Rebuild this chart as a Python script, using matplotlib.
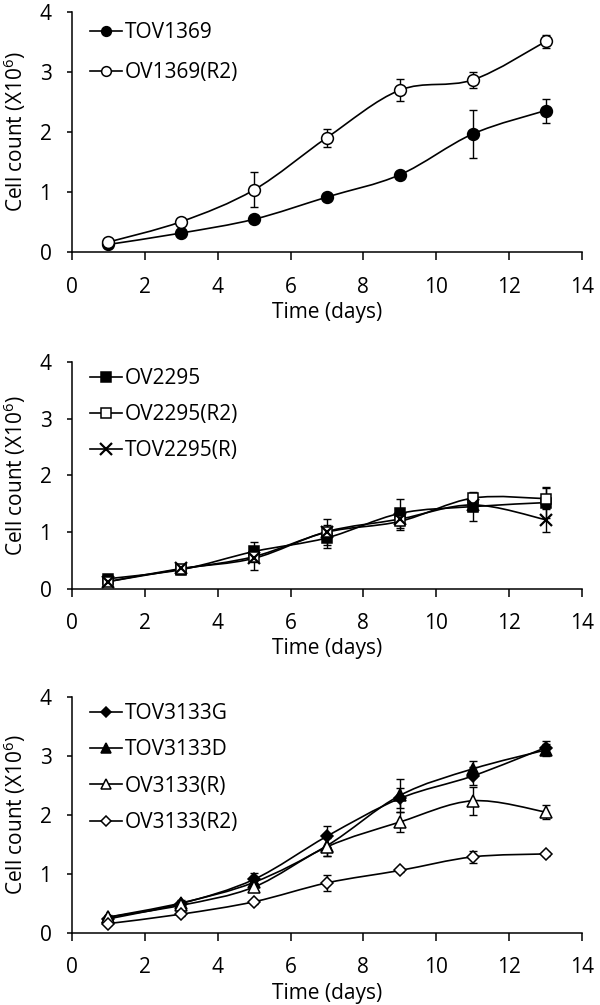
import matplotlib
matplotlib.use("Agg")
import matplotlib.pyplot as plt
from matplotlib.path import Path
from matplotlib.patches import PathPatch
from matplotlib.lines import Line2D
import numpy as np

plt.rcParams["font.family"] = ["Open Sans", "DejaVu Sans"]
plt.rcParams["mathtext.fontset"] = "custom"
plt.rcParams["mathtext.rm"] = "Open Sans"
plt.rcParams["mathtext.it"] = "Open Sans"

days = [1, 3, 5, 7, 9, 11, 13]

# panel 1
tov1369 = [0.13, 0.32, 0.55, 0.92, 1.29, 1.97, 2.36]
tov1369_err = [0.02, 0.03, 0.04, 0.05, 0.05, 0.40, 0.20]
ov1369_r2 = [0.17, 0.51, 1.04, 1.91, 2.70, 2.87, 3.51]
ov1369_r2_err = [0.03, 0.04, 0.29, 0.15, 0.18, 0.14, 0.11]

# panel 2
ov2295 = [0.18, 0.34, 0.66, 0.90, 1.33, 1.45, 1.52]
ov2295_err = [0.02, 0.03, 0.16, 0.18, 0.25, 0.25, 0.27]
ov2295_r2 = [0.13, 0.35, 0.57, 1.00, 1.19, 1.60, 1.59]
ov2295_r2_err = [0.02, 0.08, 0.10, 0.12, 0.15, 0.09, 0.18]
tov2295_r = [0.13, 0.36, 0.54, 1.01, 1.23, 1.48, 1.22]
tov2295_r_err = [0.02, 0.05, 0.20, 0.23, 0.10, 0.10, 0.21]

# panel 3
tov3133g = [0.24, 0.50, 0.91, 1.64, 2.28, 2.66, 3.14]
tov3133g_err = [0.02, 0.05, 0.11, 0.18, 0.17, 0.15, 0.11]
tov3133d = [0.27, 0.51, 0.86, 1.48, 2.33, 2.78, 3.10]
tov3133d_err = [0.02, 0.05, 0.08, 0.18, 0.28, 0.13, 0.10]
ov3133_r = [0.27, 0.47, 0.78, 1.46, 1.88, 2.24, 2.05]
ov3133_r_err = [0.03, 0.05, 0.06, 0.15, 0.17, 0.24, 0.12]
ov3133_r2 = [0.16, 0.32, 0.53, 0.85, 1.06, 1.29, 1.34]
ov3133_r2_err = [0.02, 0.03, 0.03, 0.14, 0.03, 0.10, 0.03]


def smooth_path(x, y):
    # Excel-style smoothed line: cubic Bezier segments through each point
    pts = np.column_stack([x, y]).astype(float)
    n = len(pts)
    verts = [pts[0]]
    codes = [Path.MOVETO]
    for i in range(n - 1):
        p0 = pts[i - 1] if i > 0 else pts[i]
        p1 = pts[i]
        p2 = pts[i + 1]
        p3 = pts[i + 2] if i + 2 < n else pts[i + 1]
        verts += [p1 + (p2 - p0) / 6, p2 - (p3 - p1) / 6, p2]
        codes += [Path.CURVE4] * 3
    return Path(verts, codes)


def draw_series(ax, y, err, marker, face, label, ms=8.5, leg_ms=7):
    ax.add_patch(PathPatch(smooth_path(days, y), fill=False, ec="black", lw=1.2, zorder=2))
    ax.errorbar(days, y, yerr=err, fmt="none", ecolor="black", elinewidth=1,
                capsize=3, capthick=1, zorder=3)
    mew = 1.6 if marker == "x" else 1.1
    ax.plot(days, y, linestyle="none", marker=marker, ms=ms, mfc=face,
            mec="black", mew=mew, zorder=4)
    return Line2D([], [], color="black", lw=1.2, marker=marker, ms=leg_ms,
                  mfc=face, mec="black", mew=mew, label=label)


def style_axes(ax, handles, spacing, top):
    ax.set_xlim(0, 14)
    ax.set_ylim(0, 4)
    ax.set_xticks(range(0, 15, 2))
    ax.set_yticks(range(0, 5))
    for s in ["top", "right"]:
        ax.spines[s].set_visible(False)
    for s in ["left", "bottom"]:
        ax.spines[s].set_linewidth(1.1)
    ax.tick_params(direction="out", width=1.1, labelsize=15)
    ax.tick_params(axis="x", length=5.5, pad=12)
    ax.tick_params(axis="y", length=3.8, pad=11)
    ax.set_xlabel("Time (days)", fontsize=15, labelpad=3)
    ax.set_ylabel("Cell count (X10$^{6}$)", fontsize=15, labelpad=8)
    ax.legend(handles=handles, loc="upper left", frameon=False, fontsize=15,
              handlelength=1.55, handletextpad=0.15, labelspacing=spacing,
              borderaxespad=0.0, bbox_to_anchor=(0.018, top))


fig = plt.figure(figsize=(6, 10.05), dpi=100)
ax1 = fig.add_axes([0.12, 0.749, 0.85, 0.239])
ax2 = fig.add_axes([0.12, 0.414, 0.85, 0.226])
ax3 = fig.add_axes([0.12, 0.0716, 0.85, 0.235])

h1 = [
    draw_series(ax1, tov1369, tov1369_err, "o", "black", "TOV1369"),
    draw_series(ax1, ov1369_r2, ov1369_r2_err, "o", "white", "OV1369(R2)"),
]
style_axes(ax1, h1, 0.93, 0.993)

h2 = [
    draw_series(ax2, ov2295, ov2295_err, "s", "black", "OV2295", ms=7.8),
    draw_series(ax2, ov2295_r2, ov2295_r2_err, "s", "white", "OV2295(R2)", ms=7.8),
    draw_series(ax2, tov2295_r, tov2295_r_err, "x", "black", "TOV2295(R)", ms=9, leg_ms=8),
]
style_axes(ax2, h2, 0.72, 1.01)

h3 = [
    draw_series(ax3, tov3133g, tov3133g_err, "D", "black", "TOV3133G", ms=6.5, leg_ms=5.5),
    draw_series(ax3, tov3133d, tov3133d_err, "^", "black", "TOV3133D"),
    draw_series(ax3, ov3133_r, ov3133_r_err, "^", "white", "OV3133(R)"),
    draw_series(ax3, ov3133_r2, ov3133_r2_err, "D", "white", "OV3133(R2)", ms=6.5, leg_ms=5.5),
]
style_axes(ax3, h3, 0.74, 1.01)

fig.savefig("out.png", dpi=100)
